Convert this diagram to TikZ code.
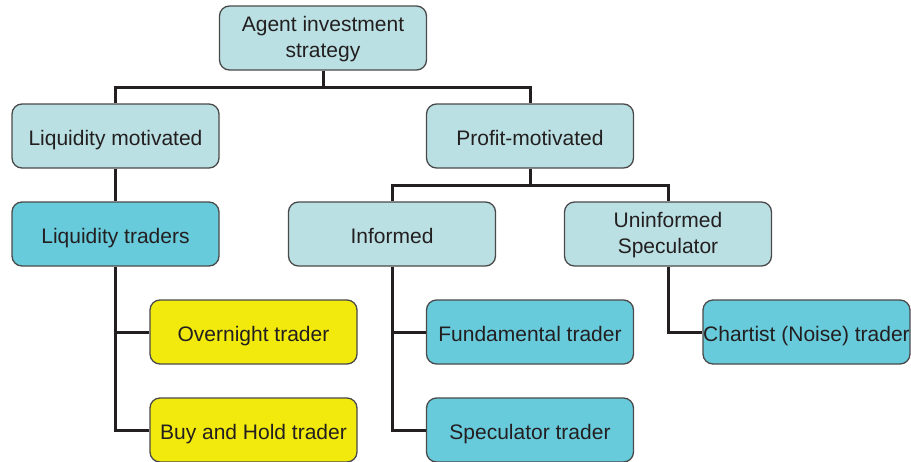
\documentclass[tikz,border=0pt]{standalone}
\usepackage{fontspec}
\setmainfont{Liberation Sans}
\definecolor{lightteal}{HTML}{BAE0E3}
\definecolor{darkteal}{HTML}{68CBDC}
\definecolor{yel}{HTML}{F2EA0C}
\definecolor{bord}{HTML}{4A4A4A}
\definecolor{ink}{HTML}{231F20}
\begin{document}
\begin{tikzpicture}[x=1pt,y=-1pt,
  box/.style={draw=bord, line width=1.3pt, rounded corners=10pt, minimum width=207pt, minimum height=64pt, inner xsep=0pt, inner ysep=0pt, text height=22pt, text depth=4pt, align=center, text=ink, font=\fontsize{21}{26}\selectfont},
  twoline/.style={text height=48pt, text depth=9pt},
  lbox/.style={box, fill=lightteal},
  dbox/.style={box, fill=darkteal},
  ybox/.style={box, fill=yel},
  conn/.style={draw=ink, line width=3pt}]
\useasboundingbox (0,0) rectangle (911,461);
\node[lbox,twoline] (top) at (323,38) {Agent investment\\strategy};
\node[lbox] (lm) at (115.5,136) {Liquidity motivated};
\node[lbox] (pm) at (530,136) {Profit-motivated};
\node[dbox] (lt) at (115.5,234) {Liquidity traders};
\node[lbox] (inf) at (392,234) {Informed};
\node[lbox,twoline] (us) at (668,234) {Uninformed\\Speculator};
\node[ybox] (on) at (253.5,332) {Overnight trader};
\node[ybox] (bh) at (253.5,430) {Buy and Hold trader};
\node[dbox] (fu) at (530,332) {Fundamental trader};
\node[dbox] (sp) at (530,430) {Speculator trader};
\node[dbox] (ch) at (806.5,332) {Chartist (Noise) trader};
\coordinate (j1) at (323,87);
\coordinate (j2) at (530,185);
\draw[conn] (top.south) -- (j1) -| (lm.north);
\draw[conn] (j1) -| (pm.north);
\draw[conn] (lm.south) -- (lt.north);
\draw[conn] (pm.south) -- (j2) -| (inf.north);
\draw[conn] (j2) -| (us.north);
\draw[conn] (lt.south) |- (bh.west);
\draw[conn] (lt.south |- on.west) -- (on.west);
\draw[conn] (inf.south) |- (sp.west);
\draw[conn] (inf.south |- fu.west) -- (fu.west);
\draw[conn] (us.south) |- (ch.west);
\end{tikzpicture}
\end{document}
